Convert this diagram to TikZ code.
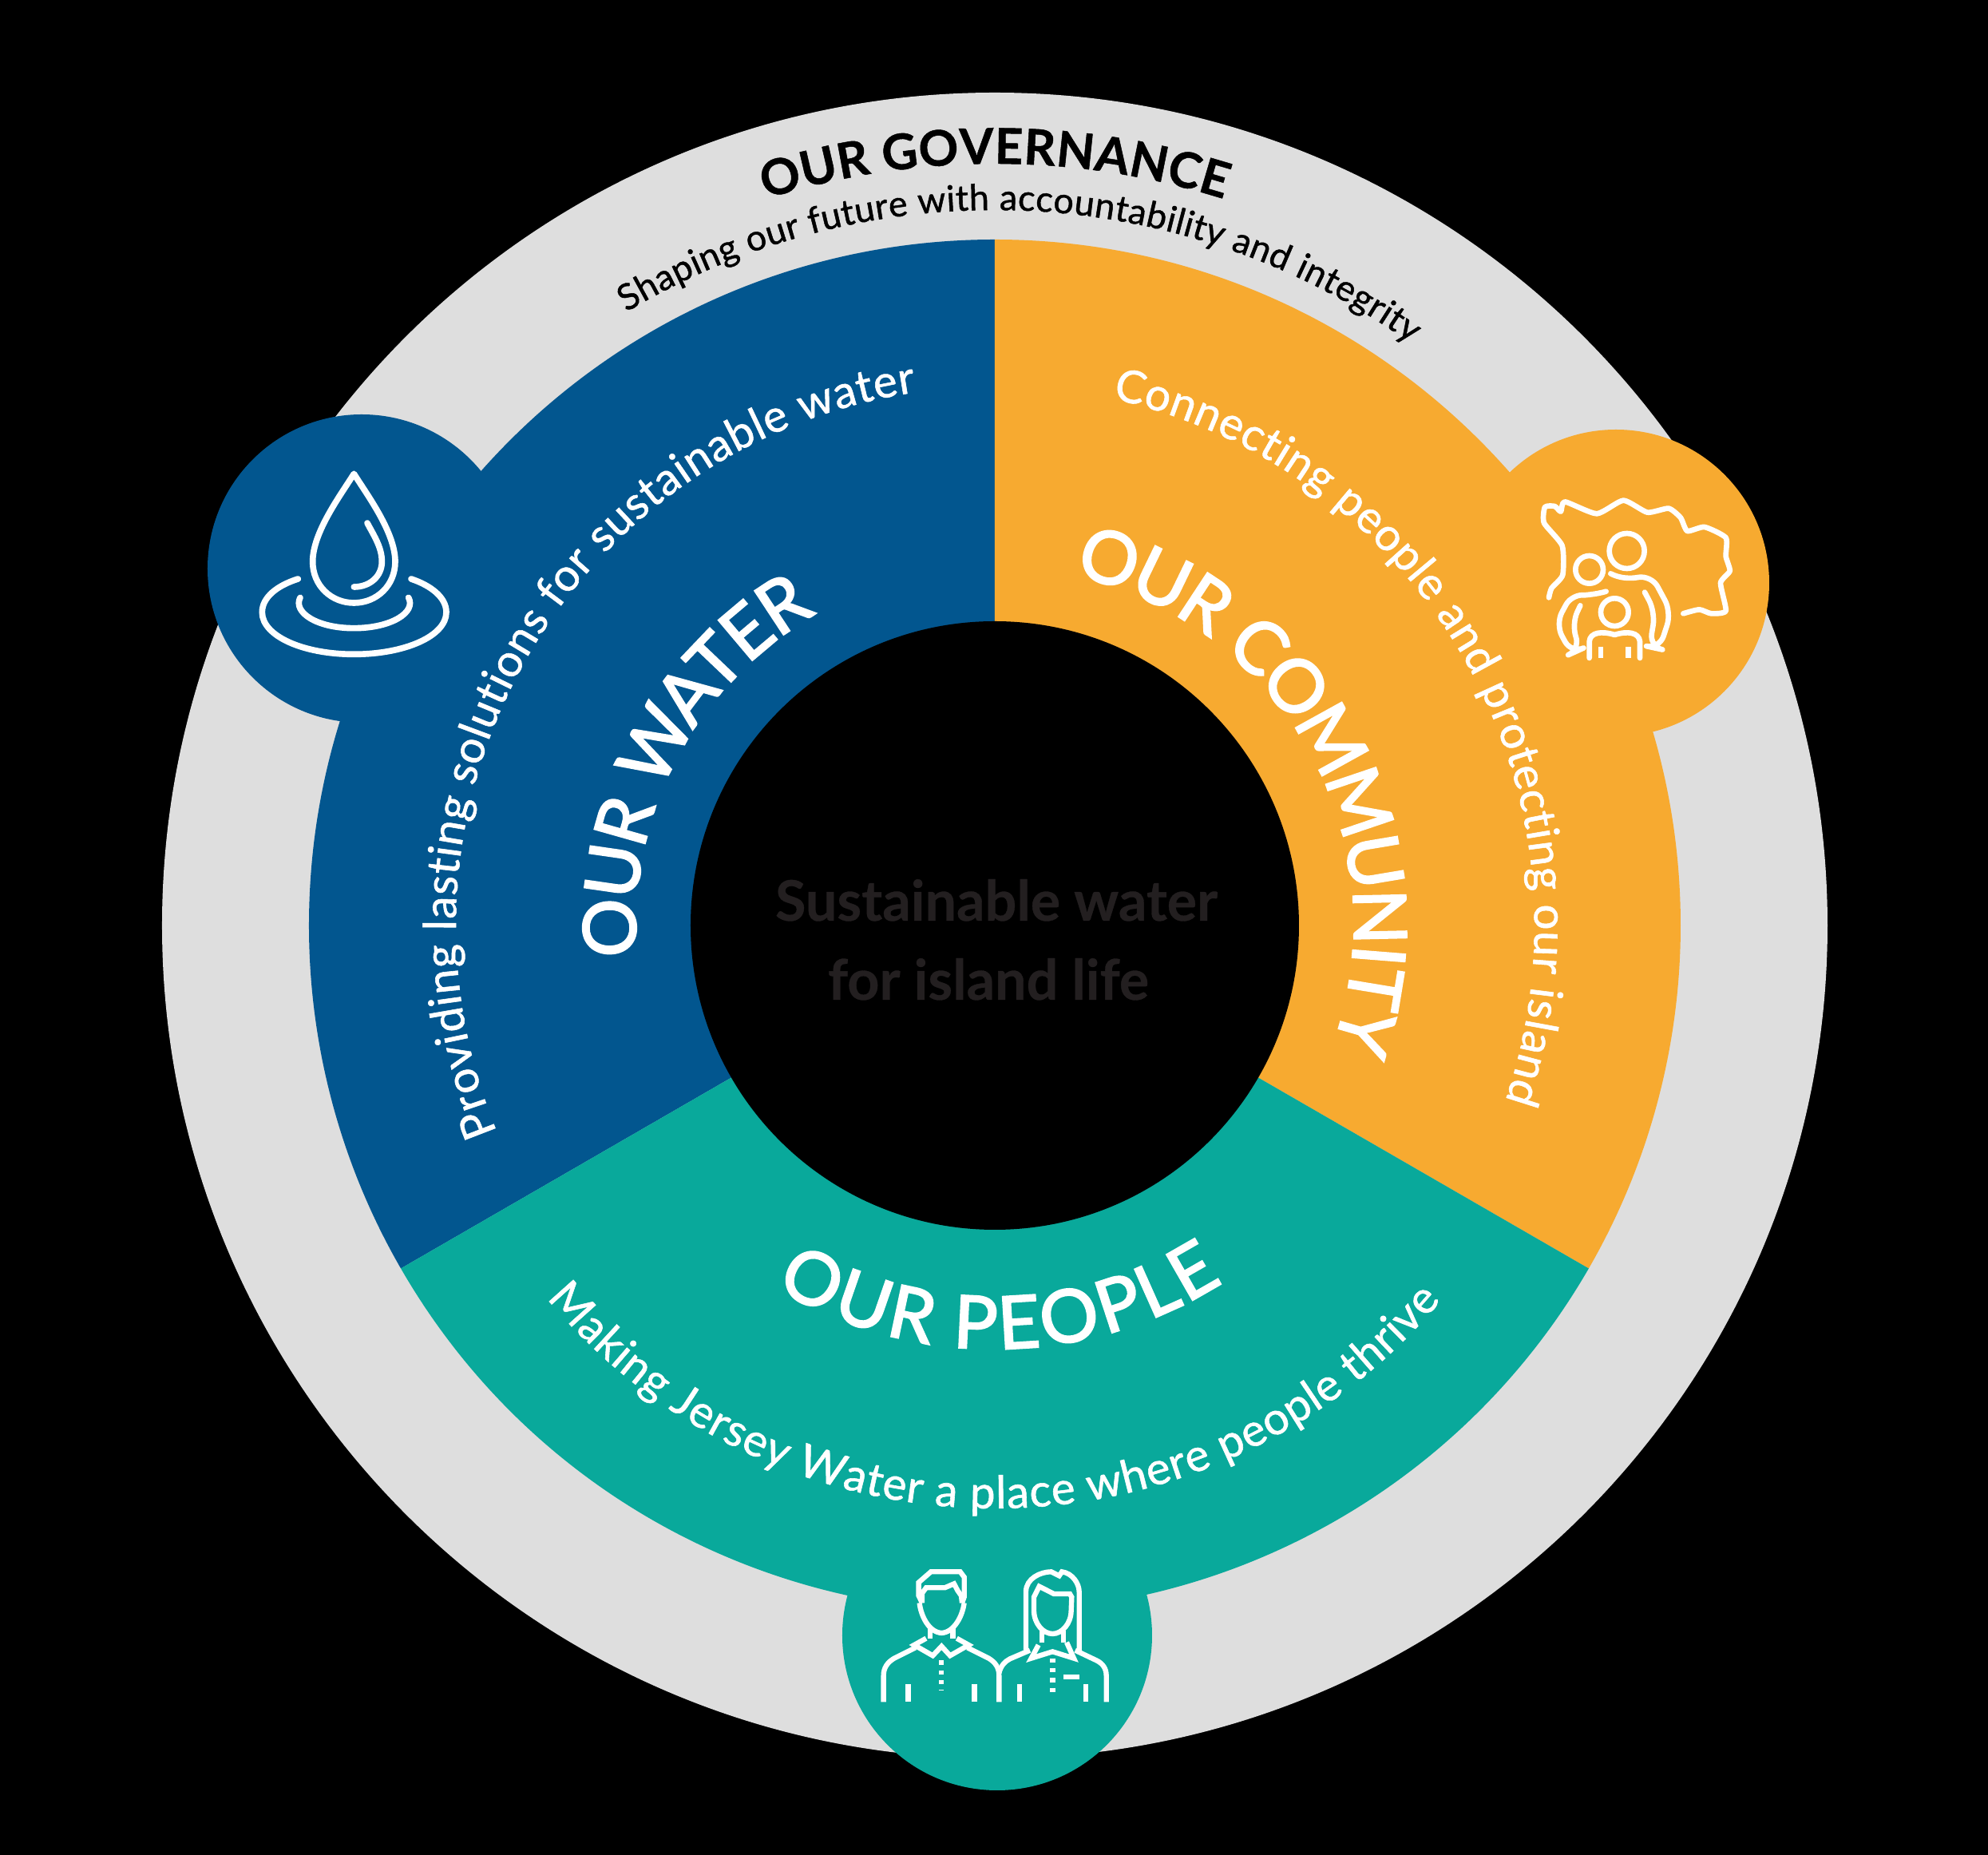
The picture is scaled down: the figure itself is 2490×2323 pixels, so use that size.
\documentclass[tikz,border=0pt]{standalone}
\usepackage{fontspec}
\setmainfont{Lato}
\newfontfamily\headfont{Lato}[FakeBold=2.4]
\newfontfamily\subfont{Lato}[FakeBold=1.0]
\newfontfamily\govfont{Lato Bold}[FakeBold=0.8]
\newfontfamily\centerfont{Lato Bold}[FakeBold=0.5]
\usetikzlibrary{decorations.text}
\definecolor{wblue}{HTML}{02568F}
\definecolor{worange}{HTML}{F7AA30}
\definecolor{wteal}{HTML}{09A99B}
\definecolor{wgray}{HTML}{DEDEDE}
\definecolor{wdark}{HTML}{231F20}
% radius, start angle, end angle, raise, format, text
\newcommand{\arctext}[6]{%
  \path[decorate,decoration={text along path,text align={fit to path},raise=#4,
    text={|#5|#6}}] (#2:#1) arc[start angle=#2,end angle=#3,radius=#1];}
\newcommand{\hfW}{\headfont\fontsize{27.5}{32}\selectfont\color{white}}
\newcommand{\hfWk}{\headfont\fontsize{27.5}{32}\selectfont\color{white}\kern-1.6pt\relax}
\newcommand{\hfC}{\headfont\fontsize{27.5}{32}\selectfont\color{white}}
\newcommand{\hfP}{\headfont\fontsize{27.5}{32}\selectfont\color{white}}
\newcommand{\sfnt}{\subfont\fontsize{17}{20}\selectfont\color{white}}
\newcommand{\gfnt}{\govfont\fontsize{18.5}{21}\selectfont\color{black}}
\newcommand{\gsfnt}{\subfont\fontsize{13.5}{15}\selectfont\color{black}}
\tikzset{
  iconline/.style={draw=white,line cap=round,line join=round,fill=none},
  centertext/.style={anchor=base,text=wdark,font=\centerfont\fontsize{21}{24}\selectfont,inner sep=0pt},
}
\begin{document}
\begin{tikzpicture}[x=0.3pt,y=0.3pt]
\useasboundingbox (-1246,1159) rectangle (1244,-1164);
\fill[black] (-1246,1159) rectangle (1244,-1164);
% rings
\fill[wgray] (0,0) circle[radius=1043];
\fill[wblue] (0,0) -- (90:859) arc[start angle=90,end angle=210,radius=859] -- cycle;
\fill[worange] (0,0) -- (90:859) arc[start angle=90,end angle=-30,radius=859] -- cycle;
\fill[wteal] (0,0) -- (210:859) arc[start angle=210,end angle=330,radius=859] -- cycle;
\fill[wblue] (-793,447) circle[radius=193];
\fill[worange] (778,429) circle[radius=192];
\fill[wteal] (3,-889) circle[radius=194];
\fill[black] (0,0) circle[radius=381];
% centre text
\node[centertext] (c1) at (2,6) {Sustainable water};
\node[centertext] (c2) at (-8,-93) {for island life};
% governance
\arctext{954}{107.5}{72.5}{0pt}{\gfnt}{OUR GOVERNANCE}
\arctext{896}{121}{54.5}{0pt}{\gsfnt}{Shaping our future with accountability and integrity}
% water
\arctext{483}{184.7}{120}{-10pt}{\hfW}{OUR W|\hfWk|AT|\hfW|ER}
\arctext{690}{202.5}{98.4}{-4.5pt}{\sfnt}{Providing lasting solutions for sustainable water}
% community
\arctext{483}{77}{-19.5}{-10pt}{\hfC}{OUR COMMUNITY}
\arctext{691}{77.4}{-18.9}{-4.5pt}{\sfnt}{Connecting people and protecting our island}
% people
\arctext{497}{-121.5}{-58.5}{-10pt}{\hfP}{OUR PEOPLE}
\arctext{715}{-140.3}{-40}{-4.5pt}{\sfnt}{Making Jersey Water a place where people thrive}
% drop icon
\begin{scope}[shift={(250-1246,1159-500)},x=0.1pt,y=-0.1pt]
\path[iconline,line width=2.3pt]
  (580,280) .. controls (630,360) and (735,500) .. (735,610)
  .. controls (735,700) and (665,765) .. (580,765)
  .. controls (495,765) and (425,700) .. (425,610)
  .. controls (425,500) and (530,360) .. cycle;
\path[iconline,line width=2.3pt]
  (630,465) .. controls (660,520) and (685,560) .. (685,610)
  .. controls (685,665) and (640,705) .. (580,705);
\path[iconline,line width=2.3pt]
  (370,675) .. controls (290,700) and (235,745) .. (235,800)
  .. controls (235,890) and (390,958) .. (580,958)
  .. controls (770,958) and (927,890) .. (927,800)
  .. controls (927,745) and (870,700) .. (795,675);
\path[iconline,line width=2.3pt]
  (378,745) .. controls (350,800) and (440,860) .. (580,860)
  .. controls (720,860) and (815,800) .. (785,745);
\end{scope}
% community icon
\begin{scope}[shift={(1860-1246,1159-520)},x=0.1pt,y=-0.1pt]
\tikzset{every path/.append style={iconline,line width=2pt}}
\path plot[smooth,tension=0.35] coordinates {(240,685) (250,650) (292,600) (290,490) (222,405) (225,345) (262,342) (285,362) (300,325) (420,370) (520,320) (610,365) (690,350) (735,385) (760,435) (825,420) (905,460) (905,530) (920,585) (885,630) (905,735) (850,745) (805,730) (745,745)};
\path (533,510) circle[radius=66];
\path (392,580) circle[radius=52];
\path (487,740) circle[radius=52];
\path[rounded corners=5pt] (472,595) .. controls (520,620) and (570,610) .. (625,600) -- (700,740) -- (655,878) -- (618,870) -- (640,740) -- (600,665);
\path[rounded corners=5pt] (455,662) .. controls (410,675) and (370,675) .. (328,668) -- (265,785) -- (325,895) -- (358,880) -- (325,785) -- (358,715);
\path (392,912) -- (392,850) .. controls (395,815) and (440,810) .. (487,825) .. controls (535,810) and (578,815) .. (582,850) -- (582,912);
\path[line cap=butt] (435,870) -- (435,912) (538,870) -- (538,912);
\end{scope}
% people icon
\begin{scope}[shift={(1040-1246,1159-1920)},x=0.1pt,y=-0.1pt]
\tikzset{every path/.append style={iconline,line width=1.9pt,line cap=butt,line join=miter}}
% man
\path (345,262) -- (332,235) -- (332,185) -- (355,165) -- (378,145) -- (488,145) -- (503,165) -- (503,240) -- (495,262);
\path (345,262) -- (345,225) -- (360,205) -- (430,205) -- (465,190) -- (478,215) -- (492,235) -- (495,262);
\path (335,262) .. controls (340,310) and (370,372) .. (418,375) .. controls (466,372) and (497,310) .. (503,262);
\path (375,355) -- (375,395) (460,355) -- (460,395);
\path (360,395) -- (315,420) -- (385,460) -- (418,425) -- (450,460) -- (520,420) -- (475,395);
\path (320,430) -- (240,470) .. controls (215,485) and (200,505) .. (200,535) -- (200,634);
\path (515,430) -- (595,470) .. controls (620,485) and (634,505) .. (634,535) -- (634,634);
\path (293,568) -- (293,634) (541,568) -- (541,634);
\path[dash pattern=on 1.6pt off 2.1pt] (417,478) -- (417,592);
% woman
\path (634,525) .. controls (640,500) and (655,482) .. (675,472) -- (750,440);
\path (920,440) -- (1000,478) .. controls (1025,490) and (1037,510) .. (1037,535) -- (1037,634);
\path (710,568) -- (710,634) (960,568) -- (960,634);
\path (735,440) -- (735,220) .. controls (735,170) and (790,145) .. (830,145) -- (860,160) -- (870,145) .. controls (910,150) and (935,190) .. (935,220) -- (935,445);
\path (765,240) -- (785,200) -- (840,228) -- (900,228) -- (907,240) -- (905,290) .. controls (905,340) and (870,378) .. (835,378) .. controls (800,378) and (765,340) .. (765,290) -- cycle;
\path (795,365) -- (795,410) (875,365) -- (875,410);
\path (782,420) -- (755,470) -- (835,445) -- (915,470) -- (888,410);
\path[dash pattern=on 1.6pt off 2.1pt] (835,470) -- (835,610);
\path (875,540) -- (935,540);
\end{scope}
\end{tikzpicture}
\end{document}
